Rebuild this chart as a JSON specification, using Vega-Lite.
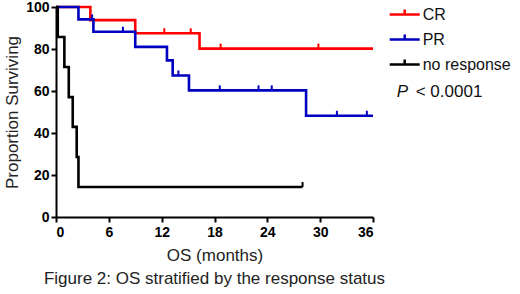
{
  "$schema": "https://vega.github.io/schema/vega-lite/v6.json",
  "width": 317,
  "height": 210,
  "autosize": {"type": "none"},
  "padding": {"left": 56, "top": 7, "right": 147, "bottom": 77},
  "background": "white",
  "title": {
    "text": "Figure 2: OS stratified by the response status",
    "orient": "bottom",
    "anchor": "middle",
    "offset": 8,
    "font": "Liberation Sans",
    "fontSize": 17,
    "fontWeight": "normal",
    "color": "#222222"
  },
  "config": {
    "view": {"stroke": null},
    "axis": {
      "grid": false,
      "domainColor": "#000000",
      "domainWidth": 2,
      "tickColor": "#000000",
      "tickWidth": 2,
      "tickSize": 5,
      "labelFont": "Liberation Sans",
      "labelFontWeight": "bold",
      "labelFontSize": 14,
      "labelColor": "#000000",
      "titleFont": "Liberation Sans",
      "titleFontWeight": "normal",
      "titleFontSize": 17,
      "titleColor": "#222222"
    },
    "legend": {
      "labelFont": "Liberation Sans",
      "labelFontSize": 16,
      "labelColor": "#111111"
    }
  },
  "datasets": {
    "curves": [
      {"group": "CR", "t": 0, "s": 100},
      {"group": "CR", "t": 3.9, "s": 93.75},
      {"group": "CR", "t": 9.0, "s": 87.5},
      {"group": "CR", "t": 16.3, "s": 80.2},
      {"group": "CR", "t": 36, "s": 80.2},
      {"group": "PR", "t": 0, "s": 100},
      {"group": "PR", "t": 2.55, "s": 94.1},
      {"group": "PR", "t": 4.25, "s": 88.2},
      {"group": "PR", "t": 9.0, "s": 81.0},
      {"group": "PR", "t": 12.6, "s": 74.6},
      {"group": "PR", "t": 13.25, "s": 67.4},
      {"group": "PR", "t": 15.1, "s": 60.3},
      {"group": "PR", "t": 28.4, "s": 48.2},
      {"group": "PR", "t": 36, "s": 48.2},
      {"group": "no response", "t": 0, "s": 100},
      {"group": "no response", "t": 0.2, "s": 85.7},
      {"group": "no response", "t": 0.95, "s": 71.4},
      {"group": "no response", "t": 1.45, "s": 57.1},
      {"group": "no response", "t": 1.9, "s": 42.9},
      {"group": "no response", "t": 2.35, "s": 28.6},
      {"group": "no response", "t": 2.55, "s": 14.3},
      {"group": "no response", "t": 28.0, "s": 14.3}
    ],
    "censored": [
      {"group": "CR", "t": 12.3, "s": 87.5},
      {"group": "CR", "t": 15.3, "s": 87.5},
      {"group": "CR", "t": 18.7, "s": 80.2},
      {"group": "CR", "t": 29.8, "s": 80.2},
      {"group": "PR", "t": 4.1, "s": 94.1},
      {"group": "PR", "t": 7.6, "s": 88.2},
      {"group": "PR", "t": 13.9, "s": 67.4},
      {"group": "PR", "t": 18.6, "s": 60.3},
      {"group": "PR", "t": 23.0, "s": 60.3},
      {"group": "PR", "t": 24.5, "s": 60.3},
      {"group": "PR", "t": 31.9, "s": 48.2},
      {"group": "PR", "t": 35.3, "s": 48.2},
      {"group": "no response", "t": 28.0, "s": 14.3}
    ],
    "notes": [
      {"t": 38.69, "s": 59.4, "txt": "P", "kind": "italic"},
      {"t": 40.85, "s": 59.4, "txt": "< 0.0001", "kind": "normal"}
    ]
  },
  "layer": [
    {
      "data": {"name": "curves"},
      "mark": {"type": "line", "interpolate": "step-after", "strokeWidth": 2.6, "clip": false},
      "encoding": {
        "x": {
          "field": "t", "type": "quantitative",
          "scale": {"domain": [0, 36], "nice": false},
          "axis": {"values": [0, 6, 12, 18, 24, 30, 36], "title": "OS (months)", "labelPadding": 3, "titlePadding": 8}
        },
        "y": {
          "field": "s", "type": "quantitative",
          "scale": {"domain": [0, 100], "nice": false},
          "axis": {"values": [0, 20, 40, 60, 80, 100], "title": "Proportion Surviving", "labelPadding": 2, "titlePadding": 4}
        },
        "color": {
          "field": "group", "type": "nominal",
          "scale": {"domain": ["CR", "PR", "no response"], "range": ["#ff0000", "#0000c0", "#000000"]},
          "legend": {
            "title": null,
            "orient": "none",
            "legendX": 340.7,
            "legendY": -0.5,
            "padding": 0,
            "symbolType": "M-3,0H3M0,0V-1",
            "symbolSize": 100,
            "symbolStrokeWidth": 2.5,
            "symbolFillColor": "transparent",
            "labelOffset": 10,
            "rowPadding": 7
          }
        }
      }
    },
    {
      "data": {"name": "censored"},
      "mark": {"type": "point", "shape": "M0,0V-1", "size": 100, "strokeWidth": 2, "filled": false, "opacity": 1, "clip": false},
      "encoding": {
        "x": {"field": "t", "type": "quantitative"},
        "y": {"field": "s", "type": "quantitative"},
        "color": {"field": "group", "type": "nominal", "legend": null}
      }
    },
    {
      "data": {"name": "notes"},
      "transform": [{"filter": "datum.kind === 'italic'"}],
      "mark": {"type": "text", "align": "left", "baseline": "middle", "font": "Liberation Sans", "fontSize": 17, "fontStyle": "italic", "color": "#111111", "clip": false},
      "encoding": {
        "x": {"field": "t", "type": "quantitative"},
        "y": {"field": "s", "type": "quantitative"},
        "text": {"field": "txt"}
      }
    },
    {
      "data": {"name": "notes"},
      "transform": [{"filter": "datum.kind === 'normal'"}],
      "mark": {"type": "text", "align": "left", "baseline": "middle", "font": "Liberation Sans", "fontSize": 17, "color": "#111111", "clip": false},
      "encoding": {
        "x": {"field": "t", "type": "quantitative"},
        "y": {"field": "s", "type": "quantitative"},
        "text": {"field": "txt"}
      }
    }
  ]
}
